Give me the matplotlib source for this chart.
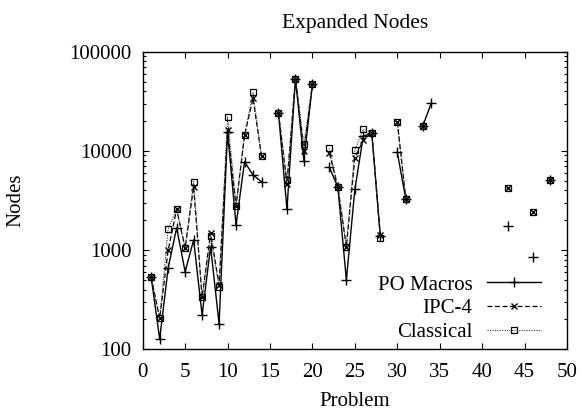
import numpy as np
import matplotlib
matplotlib.use("Agg")
import matplotlib.pyplot as plt
from matplotlib.ticker import FixedLocator, FuncFormatter, LogLocator, NullFormatter

nan = np.nan

problems = np.arange(1, 49)

# expanded nodes per problem (nan = not solved)
po_macros = [532, 127, 660, 1680, 605, 1265, 222, 1080, 181, 15630,
             1790, 7780, 5710, 4890, nan, 24270, 2580, 53400, 7960, 46900,
             nan, 6840, 4300, 500, 4100, 14130, 15000, 1380, nan, 9690,
             3300, nan, 17800, 30200, nan, nan, nan, nan, nan, nan,
             nan, nan, 1750, nan, nan, 857, nan, 5090]
ipc4 = [532, 205, 1000, 2580, 1050, 4360, 334, 1500, 445, 16250,
        2800, 14360, 33900, 8830, nan, 24270, 4640, 53400, 10000, 46900,
        nan, 9460, 4300, 1080, 8560, 12880, 15270, 1420, nan, 19700,
        3300, nan, 17800, nan, nan, nan, nan, nan, nan, nan,
        nan, nan, 4200, nan, nan, 2440, nan, 5090]
classical = [532, 205, 1640, 2580, 1050, 4890, 334, 1387, 422, 21980,
             2800, 14360, 39000, 8830, nan, 24270, 5090, 53400, 11650, 46900,
             nan, 10620, 4300, 1080, 10200, 16630, 15270, 1315, nan, 19700,
             3300, nan, 17800, nan, nan, nan, nan, nan, nan, nan,
             nan, nan, 4200, nan, nan, 2440, nan, 5090]

xticks = list(range(0, 51, 5))
yticks = [100, 1000, 10000, 100000]

plt.rcParams['font.family'] = ['Liberation Serif', 'DejaVu Serif']
plt.rcParams['font.size'] = 15

fig = plt.figure(figsize=(5.82, 4.11), dpi=100)
ax = fig.add_axes([0.2452, 0.150, 0.729, 0.7242])

ax.plot(problems, po_macros, color='black', lw=1.0, ls='-',
        marker='+', ms=6.5, mew=1.0, label='PO Macros')
ax.plot(problems, ipc4, color='black', lw=0.9, ls=(0, (4, 2)),
        marker='x', ms=4.5, mew=1.0, label='IPC-4')
ax.plot(problems, classical, color='#333333', lw=0.8, ls=(0, (1, 1.2)),
        marker='s', ms=5, mew=0.9, mfc='none', mec='black', label='Classical')

ax.set_yscale('log')
ax.set_xlim(0, 50)
ax.set_ylim(100, 100000)
ax.xaxis.set_major_locator(FixedLocator(xticks))
ax.yaxis.set_major_locator(FixedLocator(yticks))
ax.yaxis.set_major_formatter(FuncFormatter(lambda v, _: f"{int(round(v))}"))
ax.yaxis.set_minor_locator(LogLocator(base=10, subs=np.arange(2, 10)))
ax.yaxis.set_minor_formatter(NullFormatter())
ax.tick_params(which='both', direction='in', top=True, right=True, width=0.8)
ax.tick_params(axis='x', which='major', length=4, pad=10)
ax.tick_params(axis='y', which='major', length=4, pad=8)
ax.tick_params(axis='y', which='minor', length=2.2)
for sp in ax.spines.values():
    sp.set_linewidth(1.0)

ax.set_title('Expanded Nodes', fontsize=15.5, pad=17)
ax.set_xlabel('Problem')
ax.xaxis.set_label_coords(0.5, -0.143)
ax.xaxis.label.set_va('top')
ax.set_ylabel('Nodes')
ax.yaxis.set_label_coords(-0.277, 0.5)

ax.legend(loc='lower right', bbox_to_anchor=(0.938, 0.024), frameon=False,
          markerfirst=False, handlelength=2.6, handletextpad=0.67,
          labelspacing=0.2, borderpad=0, borderaxespad=0)

fig.savefig('out.png', dpi=100)
